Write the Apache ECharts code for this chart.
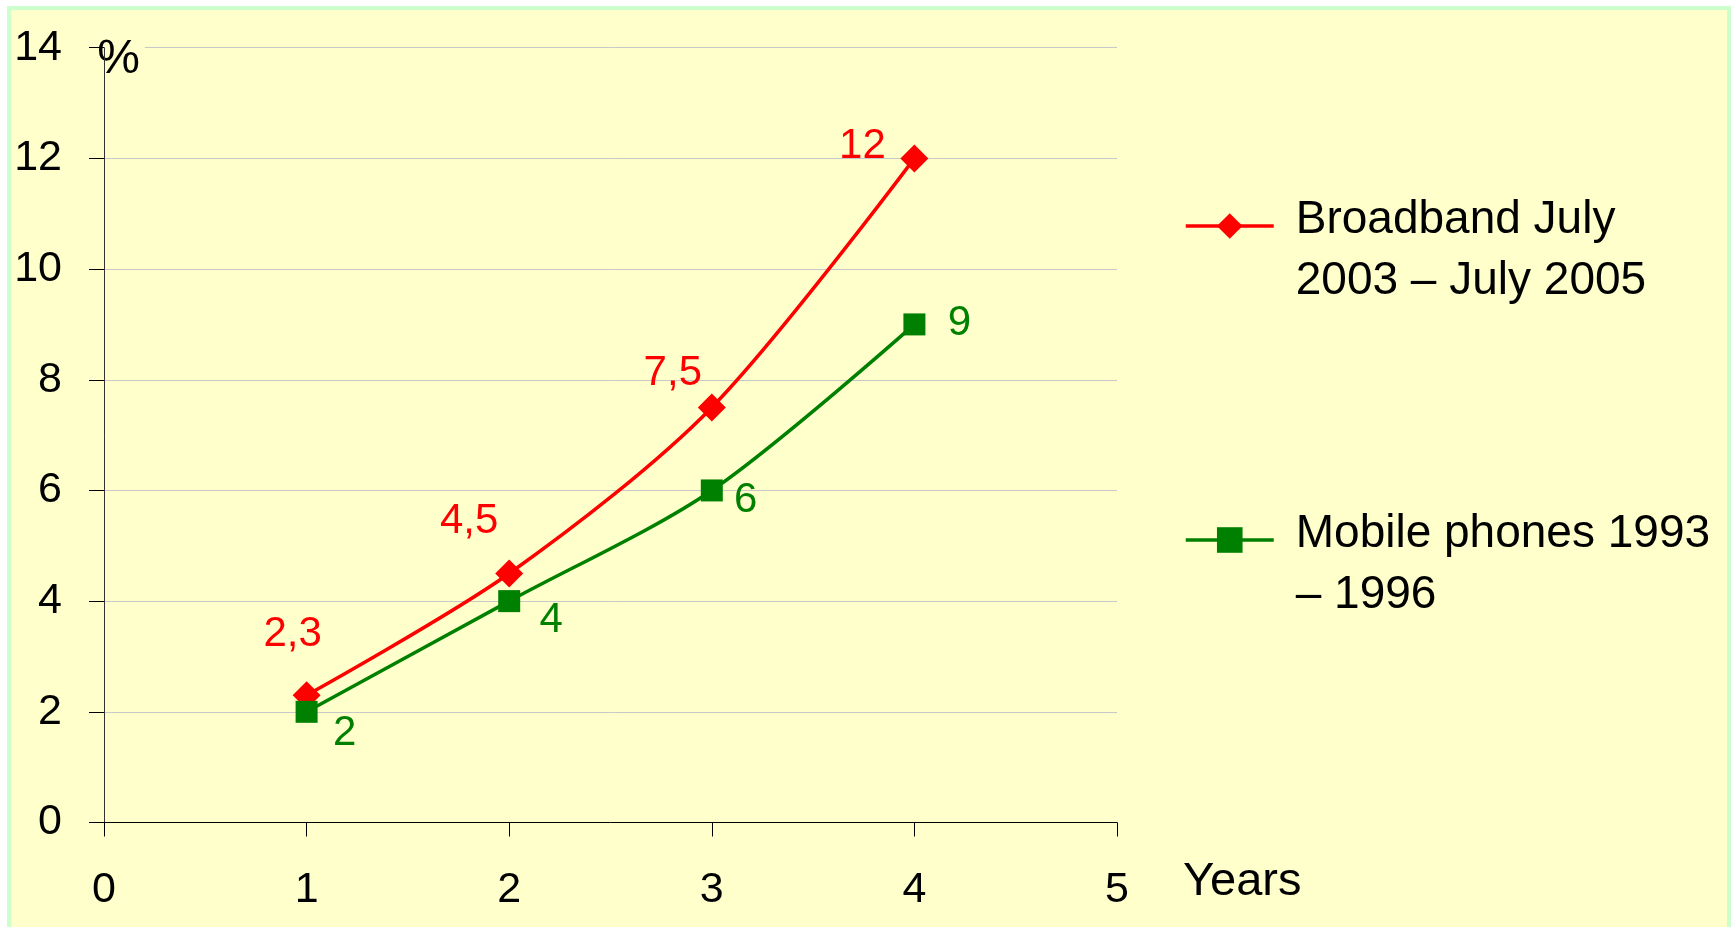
<!DOCTYPE html>
<html>
<head>
<meta charset="utf-8">
<script src="https://cdn.jsdelivr.net/npm/echarts@6/dist/echarts.min.js"></script>
<style>
  body { margin: 0; background: #ffffff; overflow: hidden; }
  #frame { position: absolute; left: 7px; top: 6px; width: 1716px; height: 940px;
           border: 4px solid #ccffcc; background: #ffffcc; }
  #chart { position: absolute; left: 0; top: 0; width: 1735px; height: 927px; }
</style>
</head>
<body>
<div id="frame"></div>
<div id="chart"></div>
<script>
var years = [1, 2, 3, 4];
var broadband = [2.3, 4.5, 7.5, 12];
var mobile = [2, 4, 6, 9];
var broadbandLabels = ['2,3', '4,5', '7,5', '12'];
var mobileLabels = ['2', '4', '6', '9'];
var broadbandName = 'Broadband July\n2003 – July 2005';
var mobileName = 'Mobile phones 1993\n– 1996';

// where each value label sits relative to its marker
var broadbandLabelShift = [[-14, -61], [-40, -52], [-39, -34], [-52, -12]];
var mobileLabelShift = [[38, 22], [42, 19], [34, 10], [45, -1]];

var font = 'Liberation Sans, Arial, sans-serif';

function points(values, labels, shifts) {
    return years.map(function (x, i) {
        return {
            value: [x, values[i]],
            label: { formatter: labels[i], offset: shifts[i] }
        };
    });
}

// legend text sits a bit lower than the icon, like the original
function legendText(name) {
    var lines = name.split('\n').map(function (l) {
        return '{g| }{t|' + l + '}';
    });
    return '{s| }\n' + lines.join('\n');
}

function legendBox(name, top) {
    return {
        data: [name],
        orient: 'vertical',
        left: 1184,
        top: top,
        padding: 0,
        itemWidth: 88,
        itemHeight: 32,
        selectedMode: false,
        formatter: legendText,
        lineStyle: { width: 3.5 },
        textStyle: {
            fontFamily: font,
            fontSize: 46,
            color: '#000',
            rich: {
                s: { fontSize: 10, lineHeight: 50 },
                g: { width: 17, fontSize: 46, lineHeight: 61 },
                t: { fontFamily: font, fontSize: 46, lineHeight: 61, color: '#000' }
            }
        }
    };
}

var chart = echarts.init(document.getElementById('chart'), null, { renderer: 'canvas' });

chart.setOption({
    backgroundColor: 'transparent',
    animation: false,
    textStyle: { fontFamily: font },
    grid: { left: 104, right: 618, top: 47.7, bottom: 104.5, containLabel: false },
    legend: [legendBox(broadbandName, 160), legendBox(mobileName, 474)],
    xAxis: {
        type: 'value',
        min: 0,
        max: 5,
        interval: 1,
        name: 'Years',
        nameLocation: 'end',
        nameGap: 66,
        nameMoveOverlap: false,
        nameTextStyle: {
            fontFamily: font, fontSize: 47, color: '#000',
            align: 'left', verticalAlign: 'top', padding: [36, 0, 0, 0]
        },
        axisLine: { show: true, lineStyle: { color: '#000', width: 1 } },
        axisTick: { show: true, length: 14, lineStyle: { color: '#000' } },
        splitLine: { show: false },
        axisLabel: { fontFamily: font, fontSize: 43, color: '#000', margin: 46 }
    },
    yAxis: {
        type: 'value',
        min: 0,
        max: 14,
        interval: 2,
        name: '%',
        nameLocation: 'end',
        nameGap: 12,
        nameMoveOverlap: false,
        nameTextStyle: {
            fontFamily: font, fontSize: 48, color: '#000',
            align: 'center', verticalAlign: 'top',
            padding: [0, 5, 0, 34], backgroundColor: '#ffffcc'
        },
        axisLine: { show: true, lineStyle: { color: '#333', width: 1 } },
        axisTick: { show: true, length: 15, lineStyle: { color: '#000' } },
        splitLine: { show: true, lineStyle: { color: '#c8c8c8', width: 1 } },
        axisLabel: { fontFamily: font, fontSize: 43, color: '#000', margin: 42, padding: [0, 0, 7, 0] }
    },
    series: [
        {
            name: broadbandName,
            type: 'line',
            smooth: 0.3,
            data: points(broadband, broadbandLabels, broadbandLabelShift),
            symbol: 'diamond',
            symbolSize: 28,
            lineStyle: { color: '#ff0000', width: 3.5 },
            itemStyle: { color: '#ff0000' },
            label: { show: true, position: 'inside', fontFamily: font, fontSize: 42, color: '#ff0000' }
        },
        {
            name: mobileName,
            type: 'line',
            smooth: 0.3,
            data: points(mobile, mobileLabels, mobileLabelShift),
            symbol: 'rect',
            symbolSize: 22,
            lineStyle: { color: '#008000', width: 3.5 },
            itemStyle: { color: '#008000' },
            label: { show: true, position: 'inside', fontFamily: font, fontSize: 42, color: '#008000' }
        }
    ]
});
</script>
</body>
</html>
